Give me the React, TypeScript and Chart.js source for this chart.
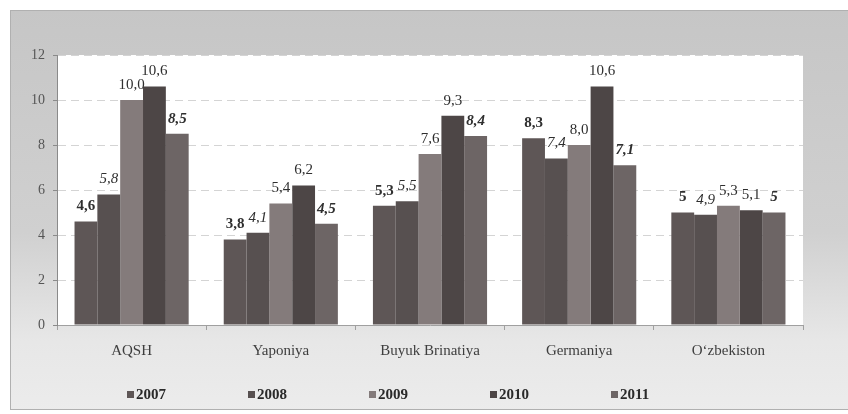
import React, { useEffect, useRef } from "react";
import { Chart, registerables } from "chart.js";

Chart.register(...registerables);

const categories = ["AQSH", "Yaponiya", "Buyuk Brinatiya", "Germaniya", "O‘zbekiston"];
const years = ["2007", "2008", "2009", "2010", "2011"];

const values2007 = [4.6, 3.8, 5.3, 8.3, 5.0];
const values2008 = [5.8, 4.1, 5.5, 7.4, 4.9];
const values2009 = [10.0, 5.4, 7.6, 8.0, 5.3];
const values2010 = [10.6, 6.2, 9.3, 10.6, 5.1];
const values2011 = [8.5, 4.5, 8.4, 7.1, 5.0];

const labels2007 = ["4,6", "3,8", "5,3", "8,3", "5"];
const labels2008 = ["5,8", "4,1", "5,5", "7,4", "4,9"];
const labels2009 = ["10,0", "5,4", "7,6", "8,0", "5,3"];
const labels2010 = ["10,6", "6,2", "9,3", "10,6", "5,1"];
const labels2011 = ["8,5", "4,5", "8,4", "7,1", "5"];

const yTicks = [0, 2, 4, 6, 8, 10, 12];

const seriesValues = [values2007, values2008, values2009, values2010, values2011];
const seriesLabels = [labels2007, labels2008, labels2009, labels2010, labels2011];
const colors = ["#5e5656", "#575050", "#847b7b", "#4d4646", "#6d6565"];
const labelFonts = [
  "bold 15px 'Liberation Serif'",
  "italic 15px 'Liberation Serif'",
  "15px 'Liberation Serif'",
  "15px 'Liberation Serif'",
  "italic bold 15px 'Liberation Serif'",
];

const bgPlugin = {
  id: "bg",
  beforeDraw(chart: any) {
    const { ctx, chartArea: a, width, height } = chart;
    ctx.save();
    ctx.fillStyle = "#ffffff";
    ctx.fillRect(0, 0, width, height);
    const g = ctx.createLinearGradient(0, 10, 0, height);
    g.addColorStop(0, "#c6c6c6");
    g.addColorStop(0.55, "#d0d0d0");
    g.addColorStop(0.82, "#e7e7e7");
    g.addColorStop(1, "#ececec");
    ctx.fillStyle = g;
    ctx.fillRect(10, 10, width - 10, height - 14);
    ctx.strokeStyle = "#b0b0b0";
    ctx.lineWidth = 1;
    ctx.strokeRect(10.5, 10.5, width - 10, height - 15);
    ctx.fillStyle = "#ffffff";
    ctx.fillRect(a.left, a.top, a.right - a.left, a.bottom - a.top);
    ctx.restore();
  },
};

const valueLabelPlugin = {
  id: "valueLabels",
  afterDatasetsDraw(chart: any) {
    const { ctx } = chart;
    ctx.save();
    ctx.fillStyle = "#2f2f2f";
    ctx.textAlign = "center";
    ctx.textBaseline = "middle";
    chart.data.datasets.forEach((ds: any, i: number) => {
      const meta = chart.getDatasetMeta(i);
      ctx.font = labelFonts[i];
      meta.data.forEach((bar: any, j: number) => {
        ctx.fillText(seriesLabels[i][j], bar.x, bar.y - 15);
      });
    });
    ctx.restore();
  },
};

const legendPlugin = {
  id: "customLegend",
  afterDraw(chart: any) {
    const { ctx, chartArea: a } = chart;
    ctx.save();
    ctx.font = "bold 15px 'Liberation Serif'";
    ctx.textBaseline = "middle";
    ctx.textAlign = "left";
    const y = 395;
    const startX = a.left + 70;
    const step = 121;
    chart.data.datasets.forEach((ds: any, i: number) => {
      const x = startX + i * step;
      ctx.fillStyle = ds.backgroundColor;
      ctx.fillRect(x, y - 4, 7, 7);
      ctx.fillStyle = "#2a2a2a";
      ctx.fillText(ds.label, x + 9, y);
    });
    ctx.restore();
  },
};

export default function App() {
  const ref = useRef<HTMLCanvasElement>(null);
  useEffect(() => {
    if (!ref.current) return;
    const chart = new Chart(ref.current, {
      type: "bar",
      data: {
        labels: categories,
        datasets: years.map((y, i) => ({
          label: y,
          data: seriesValues[i],
          backgroundColor: colors[i],
          borderWidth: 0,
          categoryPercentage: 0.765,
          barPercentage: 1,
        })),
      },
      options: {
        responsive: false,
        animation: false,
        layout: { padding: { left: 10, right: 45, top: 55, bottom: 0 } },
        plugins: {
          legend: { display: false },
          tooltip: { enabled: false },
        },
        scales: {
          x: {
            grid: { display: true, drawOnChartArea: false, tickLength: 5, color: "#a0a0a0", offset: true },
            border: { display: true, color: "#a0a0a0" },
            ticks: { font: { family: "'Liberation Serif'", size: 15 }, color: "#3e3e3e", padding: 12 },
            afterFit(scale: any) {
              scale.height = 89;
            },
          },
          y: {
            min: 0,
            max: 12,
            afterBuildTicks(scale: any) {
              scale.ticks = yTicks.map((v) => ({ value: v }));
            },
            ticks: {
              font: { family: "'Liberation Serif'", size: 14 },
              color: "#555555",
              padding: 8,
            },
            grid: { color: "rgba(160,160,160,0.45)", tickColor: "#8a8a8a", tickLength: 4 },
            border: { display: true, color: "#8a8a8a", dash: [8, 5] },
            afterFit(scale: any) {
              scale.width = 47;
            },
          },
        },
      },
      plugins: [bgPlugin, valueLabelPlugin, legendPlugin],
    });
    return () => chart.destroy();
  }, []);
  return (
    <div style={{ position: "fixed", left: 0, top: 0, width: 848, height: 414 }}>
      <canvas ref={ref} width={848} height={414} />
    </div>
  );
}
